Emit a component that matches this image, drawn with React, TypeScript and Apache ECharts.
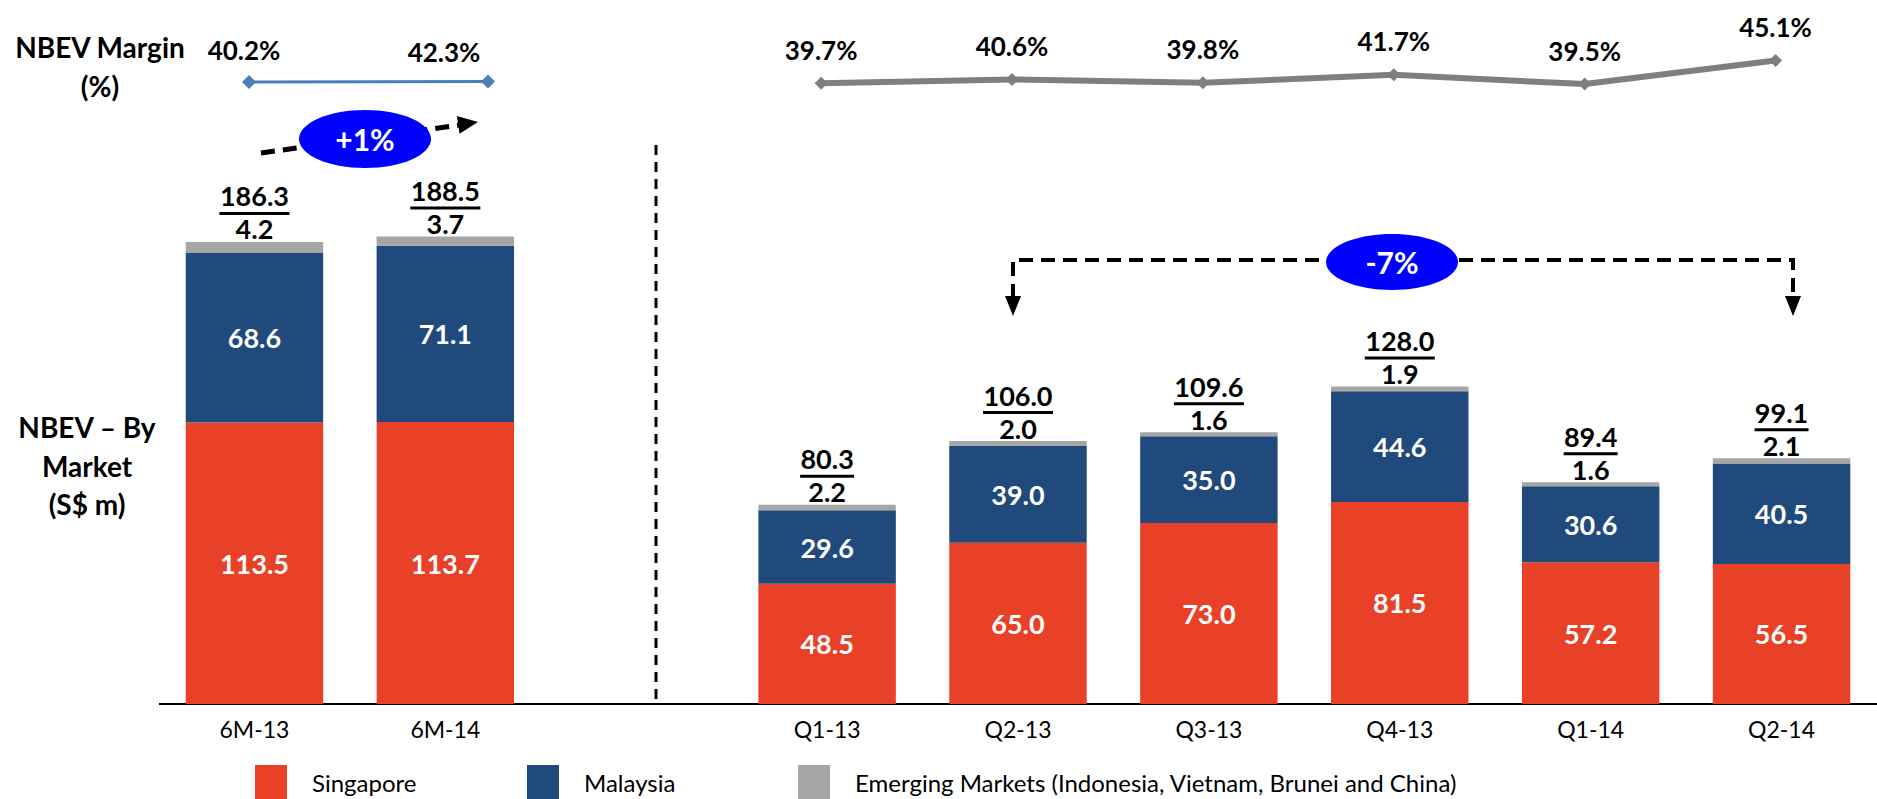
import React, { useEffect, useRef } from "react";
import * as echarts from "echarts";

const categories = ["6M-13", "6M-14", "", "Q1-13", "Q2-13", "Q3-13", "Q4-13", "Q1-14", "Q2-14"];
const singapore = [113.5, 113.7, "-", 48.5, 65.0, 73.0, 81.5, 57.2, 56.5];
const malaysia = [68.6, 71.1, "-", 29.6, 39.0, 35.0, 44.6, 30.6, 40.5];
const emerging = [4.2, 3.7, "-", 2.2, 2.0, 1.6, 1.9, 1.6, 2.1];
const totals = [186.3, 188.5, "-", 80.3, 106.0, 109.6, 128.0, 89.4, 99.1];
const halfYearCategories = ["6M-13", "6M-14"];
const marginHalfYear = [40.2, 42.3];
const marginQuarter = ["-", "-", "-", 39.7, 40.6, 39.8, 41.7, 39.5, 45.1];

const FONT = "Lato";
const RED = "#E94127";
const NAVY = "#214A7C";
const GREY = "#A6A6A6";

export default function App() {
  const ref = useRef<HTMLDivElement>(null);
  useEffect(() => {
    document.body.style.margin = "0";
    const chart = echarts.init(ref.current!, null, { renderer: "svg" });
    const fmtVal = (v: any) => (typeof v === "number" ? v.toFixed(1) : "");
    const legendBase = (left: number, name: string) => ({
      left, top: 765, padding: 0, itemWidth: 32, itemHeight: 34, icon: "rect",
      data: [name],
      formatter: (n: string) => `{s|}{n|${n}}`,
      textStyle: {
        fontFamily: FONT, fontSize: 24, color: "#000", lineHeight: 22,
        rich: {
          s: { width: 20, lineHeight: 22 },
          n: { fontFamily: FONT, fontSize: 24, color: "#000", lineHeight: 22 },
        },
      },
    });
    const option: any = {
      animation: false,
      textStyle: { fontFamily: FONT },
      grid: [
        { left: 159, width: 1718, top: 208, height: 496 },
        { left: 153, width: 1718, top: 40, height: 84 },
        { left: 249, width: 239, top: 10, height: 80 },
      ],
      xAxis: [
        {
          type: "category",
          gridIndex: 0,
          data: categories,
          axisLine: { show: false },
          axisTick: { show: false },
          axisLabel: { color: "#000", fontSize: 23, fontFamily: FONT, margin: 13 },
        },
        { type: "category", gridIndex: 1, data: categories, show: false },
        { type: "category", gridIndex: 2, data: halfYearCategories, boundaryGap: false, show: false },
      ],
      yAxis: [
        { type: "value", gridIndex: 0, min: 0, max: 200, show: false },
        { type: "value", gridIndex: 1, min: 30, max: 50, show: false },
        { type: "value", gridIndex: 2, min: 0, max: 400, show: false },
      ],
      legend: [
        legendBase(255, "Singapore"),
        legendBase(527, "Malaysia"),
        legendBase(798, "Emerging Markets (Indonesia, Vietnam, Brunei and China)"),
      ],
      series: [
        {
          name: "Singapore", type: "bar", stack: "m", xAxisIndex: 0, yAxisIndex: 0,
          barCategoryGap: "28%", data: singapore, itemStyle: { color: RED },
          label: { show: true, position: "inside", color: "#fff", fontSize: 27, fontWeight: "bold", fontFamily: FONT, formatter: (p: any) => fmtVal(p.value) },
        },
        {
          name: "Malaysia", type: "bar", stack: "m", xAxisIndex: 0, yAxisIndex: 0,
          data: malaysia, itemStyle: { color: NAVY },
          label: { show: true, position: "inside", color: "#fff", fontSize: 27, fontWeight: "bold", fontFamily: FONT, formatter: (p: any) => fmtVal(p.value) },
        },
        {
          name: "Emerging Markets (Indonesia, Vietnam, Brunei and China)", type: "bar", stack: "m",
          xAxisIndex: 0, yAxisIndex: 0, data: emerging, itemStyle: { color: GREY },
          label: {
            show: true, position: "top", distance: 0,
            formatter: (p: any) => {
              const t = totals[p.dataIndex];
              const ts = fmtVal(t);
              const u = ts.length >= 5 ? "u5" : "u4";
              return `{t|${ts}}\n{${u}|}\n{g|${fmtVal(p.value)}}`;
            },
            rich: {
              t: { fontSize: 27, fontWeight: "bold", fontFamily: FONT, color: "#000", lineHeight: 30 },
              u5: { width: 70, height: 3, backgroundColor: "#000", lineHeight: 5 },
              u4: { width: 54, height: 3, backgroundColor: "#000", lineHeight: 5 },
              g: { fontSize: 27, fontWeight: "bold", fontFamily: FONT, color: "#000", lineHeight: 26 },
            },
          },
        },
        {
          name: "Margin Q", type: "line", xAxisIndex: 1, yAxisIndex: 1, data: marginQuarter,
          symbol: "diamond", symbolSize: 13, lineStyle: { color: "#7F7F7F", width: 6 },
          itemStyle: { color: "#7F7F7F" },
          label: { show: true, position: "top", distance: 14, color: "#000", fontSize: 26, fontWeight: "bold", fontFamily: FONT, formatter: (p: any) => p.value.toFixed(1) + "%" },
        },
        {
          name: "Margin H", type: "line", xAxisIndex: 2, yAxisIndex: 2,
          data: [
            { value: marginHalfYear[0], label: { offset: [-5, 0] } },
            { value: marginHalfYear[1], label: { offset: [-44, 2] } },
          ],
          symbol: "diamond", symbolSize: 14, lineStyle: { color: "#4A7EBB", width: 3 },
          itemStyle: { color: "#4A7EBB" },
          label: { show: true, position: "top", distance: 12, color: "#000", fontSize: 26, fontWeight: "bold", fontFamily: FONT, formatter: (p: any) => p.value.toFixed(1) + "%" },
        },
      ],
      graphic: [
        { type: "line", shape: { x1: 159, y1: 704, x2: 1877, y2: 704 }, style: { stroke: "#000", lineWidth: 2 } },
        { type: "line", shape: { x1: 656, y1: 145, x2: 656, y2: 700 }, style: { stroke: "#000", lineWidth: 3, lineDash: [10, 7] } },
        { type: "text", x: 100, y: 47, style: { text: "NBEV Margin", fontSize: 28, fontWeight: "bold", fontFamily: FONT, fill: "#000", align: "center", verticalAlign: "middle" } },
        { type: "text", x: 100, y: 86, style: { text: "(%)", fontSize: 28, fontWeight: "bold", fontFamily: FONT, fill: "#000", align: "center", verticalAlign: "middle" } },
        { type: "text", x: 87, y: 427, style: { text: "NBEV – By", fontSize: 28, fontWeight: "bold", fontFamily: FONT, fill: "#000", align: "center", verticalAlign: "middle" } },
        { type: "text", x: 87, y: 466, style: { text: "Market", fontSize: 28, fontWeight: "bold", fontFamily: FONT, fill: "#000", align: "center", verticalAlign: "middle" } },
        { type: "text", x: 87, y: 504, style: { text: "(S$ m)", fontSize: 28, fontWeight: "bold", fontFamily: FONT, fill: "#000", align: "center", verticalAlign: "middle" } },
        // +1% arrow
        { type: "polyline", shape: { points: [[261, 153], [460, 125]] }, style: { stroke: "#000", lineWidth: 5, lineDash: [14, 8], fill: null } },
        { type: "polygon", shape: { points: [[459.5, 133.7], [456.9, 115.9], [478, 122]] }, style: { fill: "#000" } },
        { type: "ellipse", shape: { cx: 365, cy: 139, rx: 66, ry: 29 }, style: { fill: "#0000FF" } },
        { type: "text", x: 365, y: 139, style: { text: "+1%", fontSize: 30, fontWeight: "bold", fontFamily: FONT, fill: "#fff", align: "center", verticalAlign: "middle" } },
        // -7% bracket
        { type: "polyline", shape: { points: [[1013, 298], [1013, 260], [1793, 260], [1793, 298]] }, style: { stroke: "#000", lineWidth: 4, lineDash: [14, 8], fill: null } },
        { type: "polygon", shape: { points: [[1005, 296], [1021, 296], [1013, 316]] }, style: { fill: "#000" } },
        { type: "polygon", shape: { points: [[1785, 296], [1801, 296], [1793, 316]] }, style: { fill: "#000" } },
        { type: "ellipse", shape: { cx: 1392, cy: 262, rx: 66, ry: 28 }, style: { fill: "#0000FF" } },
        { type: "text", x: 1392, y: 262, style: { text: "-7%", fontSize: 30, fontWeight: "bold", fontFamily: FONT, fill: "#fff", align: "center", verticalAlign: "middle" } },
      ],
    };
    chart.setOption(option);
    return () => chart.dispose();
  }, []);
  return <div ref={ref} style={{ width: 1877, height: 799 }} />;
}
